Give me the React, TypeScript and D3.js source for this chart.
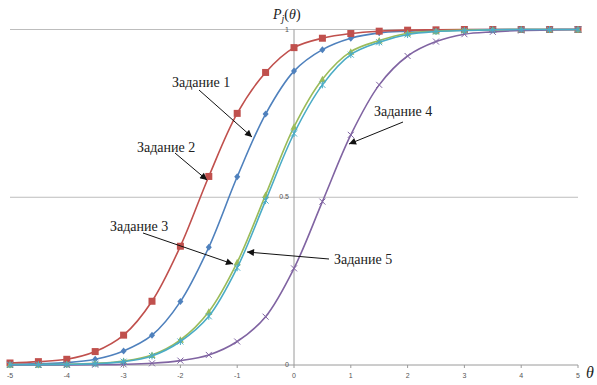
import * as d3 from 'd3'

const theta = [-5, -4.5, -4, -3.5, -3, -2.5, -2, -1.5, -1, -0.5, 0, 0.5, 1, 1.5, 2, 2.5, 3, 3.5, 4, 4.5, 5]
const xTicks = [-5, -4, -3, -2, -1, 0, 1, 2, 3, 4, 5]
const yTicks = [0, 0.5, 1]

// probabilities, one value per theta
const task2 = [0.006, 0.01, 0.017, 0.04, 0.089, 0.19, 0.354, 0.562, 0.75, 0.872, 0.946, 0.974, 0.988, 0.995, 0.998, 0.999, 1, 1, 1, 1, 1]
const task1 = [0.002, 0.004, 0.007, 0.017, 0.042, 0.089, 0.189, 0.351, 0.561, 0.748, 0.876, 0.94, 0.974, 0.99, 0.995, 0.998, 0.999, 1, 1, 1, 1]
const task3 = [0.001, 0.001, 0.002, 0.005, 0.012, 0.03, 0.075, 0.159, 0.306, 0.507, 0.71, 0.852, 0.934, 0.967, 0.989, 0.995, 0.998, 0.999, 1, 1, 1]
const task5 = [0.001, 0.001, 0.002, 0.004, 0.01, 0.027, 0.07, 0.145, 0.29, 0.49, 0.69, 0.835, 0.925, 0.962, 0.985, 0.994, 0.997, 0.999, 1, 1, 1]
const task4 = [0, 0, 0, 0.001, 0.002, 0.005, 0.013, 0.03, 0.07, 0.144, 0.288, 0.487, 0.686, 0.835, 0.921, 0.964, 0.986, 0.993, 0.997, 0.999, 1]

const series = [
  { name: 'Задание 1', values: task1, color: '#4F81BD', marker: 'diamond' },
  { name: 'Задание 2', values: task2, color: '#C0504D', marker: 'square' },
  { name: 'Задание 3', values: task3, color: '#9BBB59', marker: 'triangle' },
  { name: 'Задание 4', values: task4, color: '#8064A2', marker: 'x' },
  { name: 'Задание 5', values: task5, color: '#4BACC6', marker: 'star' },
]

// label text position, arrow start, arrow end (pixels)
const notes = [
  { text: 'Задание 1', tx: 172, ty: 87, x1: 199, y1: 90, x2: 252, y2: 137 },
  { text: 'Задание 2', tx: 137, ty: 152, x1: 175, y1: 153, x2: 207, y2: 180 },
  { text: 'Задание 3', tx: 110, ty: 231, x1: 143, y1: 233, x2: 233, y2: 264 },
  { text: 'Задание 4', tx: 374, ty: 116, x1: 403, y1: 122, x2: 349, y2: 144 },
  { text: 'Задание 5', tx: 334, ty: 264, x1: 329, y1: 259, x2: 247, y2: 252 },
]

const W = 597
const H = 385
const serif = "'Liberation Serif', 'Times New Roman', serif"

function Marker({ kind, x, y, color }: { kind: string; x: number; y: number; color: string }) {
  if (kind === 'square') return <rect x={x - 3.5} y={y - 3.5} width={7} height={7} fill={color} />
  if (kind === 'diamond') return <path d={`M${x},${y - 3.5}L${x + 3},${y}L${x},${y + 3.5}L${x - 3},${y}Z`} fill={color} />
  if (kind === 'triangle') return <path d={`M${x},${y - 3.5}L${x + 3.5},${y + 3}L${x - 3.5},${y + 3}Z`} fill={color} />
  if (kind === 'x')
    return <path d={`M${x - 3},${y - 3}L${x + 3},${y + 3}M${x - 3},${y + 3}L${x + 3},${y - 3}`} stroke={color} strokeWidth={1} />
  return (
    <path
      d={`M${x - 3},${y - 3}L${x + 3},${y + 3}M${x - 3},${y + 3}L${x + 3},${y - 3}M${x},${y - 3.5}L${x},${y + 3.5}`}
      stroke={color}
      strokeWidth={1}
    />
  )
}

export default function App() {
  const x = d3.scaleLinear().domain([-5, 5]).range([10, 578])
  const y = d3.scaleLinear().domain([0, 1]).range([365, 29.5])
  const line = d3
    .line<number>()
    .x((_, i) => x(theta[i]))
    .y((d) => y(d))
    .curve(d3.curveCatmullRom)

  return (
    <svg width={W} height={H} style={{ position: 'absolute', left: 0, top: 0, background: '#fff' }}>
      <defs>
        <marker id="arr" viewBox="0 0 10 10" refX="10" refY="5" markerWidth="9" markerHeight="7" orient="auto" markerUnits="userSpaceOnUse">
          <path d="M0,0L10,5L0,10Z" fill="#111" />
        </marker>
      </defs>

      {/* grid */}
      {yTicks.map((t) => (
        <line key={t} x1={x(-5)} x2={x(5)} y1={y(t)} y2={y(t)} stroke={t === 0 ? '#9a9a9a' : '#bdbdbd'} strokeWidth={1} />
      ))}
      <line x1={x(0)} x2={x(0)} y1={y(1)} y2={y(0)} stroke="#9a9a9a" strokeWidth={1} />
      {xTicks.map((t) => (
        <line key={'tk' + t} x1={x(t)} x2={x(t)} y1={y(0)} y2={y(0) + 3} stroke="#9a9a9a" />
      ))}

      {/* tick labels */}
      {xTicks.map((t) => (
        <text key={'xl' + t} x={x(t)} y={378} fontSize={7} fill="#555" textAnchor="middle" fontFamily="'Liberation Sans', Arial, sans-serif">
          {t}
        </text>
      ))}
      {yTicks.map((t) => (
        <text key={'yl' + t} x={x(0) - 5} y={y(t) + 2} fontSize={7} fill="#555" textAnchor="end" fontFamily="'Liberation Sans', Arial, sans-serif">
          {t}
        </text>
      ))}

      {/* curves */}
      {series.map((s) => (
        <g key={s.name}>
          <path d={line(s.values) || ''} fill="none" stroke={s.color} strokeWidth={1.6} />
          {s.values.map((v, i) => (
            <Marker key={i} kind={s.marker} x={x(theta[i])} y={y(v)} color={s.color} />
          ))}
        </g>
      ))}

      {/* annotations */}
      {notes.map((n) => (
        <g key={n.text}>
          <line x1={n.x1} y1={n.y1} x2={n.x2} y2={n.y2} stroke="#111" strokeWidth={1} markerEnd="url(#arr)" />
          <text x={n.tx} y={n.ty} fontSize={14} fill="#222" fontFamily={serif}>
            {n.text}
          </text>
        </g>
      ))}

      {/* axis titles */}
      <text x={273} y={19} fontSize={14} fill="#222" fontFamily={serif}>
        <tspan fontStyle="italic">P</tspan>
        <tspan fontStyle="italic" fontSize={10} dy={3}>j</tspan>
        <tspan dy={-3}>(</tspan>
        <tspan fontStyle="italic">θ</tspan>
        <tspan>)</tspan>
      </text>
      <text x={586} y={378} fontSize={16} fill="#222" fontStyle="italic" fontFamily={serif}>
        θ
      </text>
    </svg>
  )
}
